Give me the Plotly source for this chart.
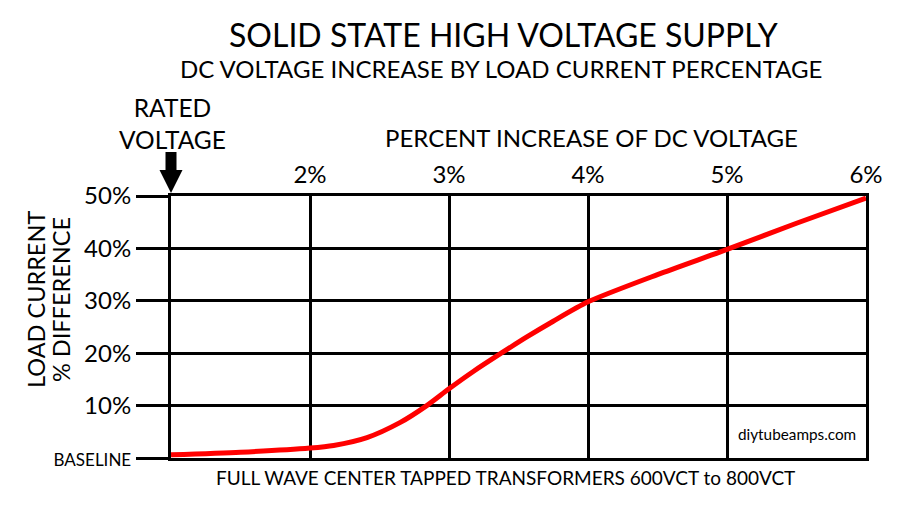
import plotly.graph_objects as go

# Data
voltage_pct = [1.0, 1.5, 2.0, 2.17, 2.41, 2.65, 2.84, 3.0, 3.18, 3.37, 3.56, 3.75, 4.0, 4.5, 5.0, 5.5, 6.0]
load_pct = [0.6, 1.1, 1.9, 2.4, 3.9, 6.8, 10.0, 13.2, 16.6, 19.9, 23.1, 26.1, 29.8, 35.0, 39.8, 44.8, 49.6]

x_tickvals = [1, 2, 3, 4, 5, 6]
x_ticktext = ["", "2%", "3%", "4%", "5%", "6%"]
y_tickvals = [0, 10, 20, 30, 40, 50]
y_ticktext = ['<span style="font-size:17px">BASELINE</span>', "10%", "20%", "30%", "40%", "50%"]

FONT = "Lato"

fig = go.Figure()
fig.add_trace(go.Scatter(
    x=voltage_pct, y=load_pct, mode="lines",
    line=dict(color="#ff0000", width=5, shape="spline", smoothing=0.7),
    hoverinfo="skip", showlegend=False,
))

# page has an 8px body margin; figure sized to fill the rest of the window
fig.update_layout(
    width=892, height=501,
    margin=dict(l=163, r=34, t=188, b=51),
    paper_bgcolor="white", plot_bgcolor="white",
    font=dict(family=FONT, color="black"),
    xaxis=dict(
        range=[1, 6], side="top", tickvals=x_tickvals, ticktext=x_ticktext,
        showgrid=True, gridcolor="black", gridwidth=3, zeroline=False,
        showline=True, linecolor="black", linewidth=3, mirror=True,
        ticks="", tickfont=dict(size=24, family=FONT),
    ),
    yaxis=dict(
        range=[0, 50], tickvals=y_tickvals, ticktext=y_ticktext,
        showgrid=True, gridcolor="black", gridwidth=3, zeroline=False,
        showline=True, linecolor="black", linewidth=3, mirror=True,
        ticks="outside", ticklen=32, tickwidth=3, tickcolor="black",
        tickfont=dict(size=24, family=FONT),
    ),
)

annos = [
    dict(text="SOLID STATE HIGH VOLTAGE SUPPLY", x=503, y=35, size=32),
    dict(text="DC VOLTAGE INCREASE BY LOAD CURRENT PERCENTAGE", x=501, y=68, size=24),
    dict(text="PERCENT INCREASE OF DC VOLTAGE", x=591, y=137, size=24),
    dict(text="RATED<br>VOLTAGE", x=172, y=123, size=24.5),
    dict(text="FULL WAVE CENTER TAPPED TRANSFORMERS 600VCT to 800VCT", x=505, y=477, size=19),
    dict(text="diytubeamps.com", x=797, y=434, size=15.3),
    dict(text="LOAD CURRENT", x=36, y=300, size=23.5, angle=-90),
    dict(text="% DIFFERENCE", x=61, y=300, size=23.5, angle=-90),
]
for a in annos:
    fig.add_annotation(
        text=a["text"], xref="paper", yref="paper",
        x=(a["x"] - 171) / 695, y=(458 - a["y"]) / 262,
        xanchor="center", yanchor="middle", showarrow=False,
        textangle=a.get("angle", 0),
        font=dict(size=a["size"], family=FONT, color="black"),
    )

# rated voltage arrow (paper coordinates; 1 px = 1/695 of plot width)
px = 1 / 695
def py(v):
    return (458 - v) / 262
path = (f"M {-5.5*px},{py(152)} L {5.5*px},{py(152)} L {5.5*px},{py(170)} "
        f"L {11.5*px},{py(170)} L 0,{py(193)} L {-11.5*px},{py(170)} "
        f"L {-5.5*px},{py(170)} Z")
fig.add_shape(type="path", path=path, xref="paper", yref="paper",
              fillcolor="black", line=dict(width=0))

fig.write_html("out.html")
